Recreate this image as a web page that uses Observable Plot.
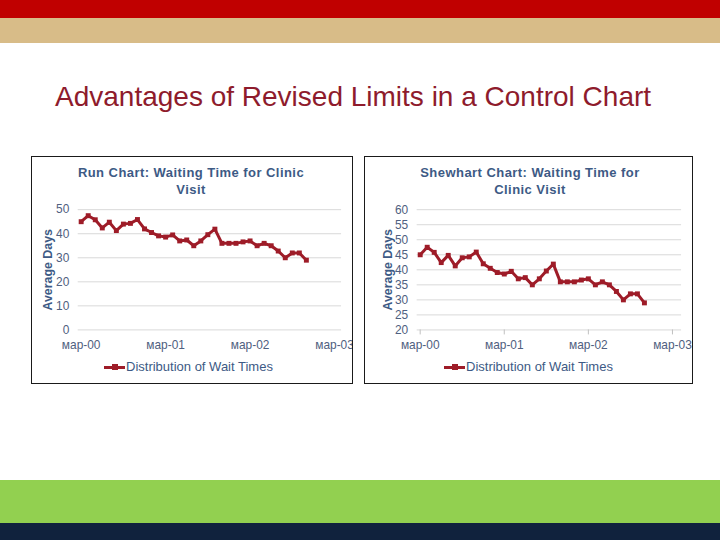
<!DOCTYPE html>
<html><head><meta charset="utf-8">
<script src="https://cdn.jsdelivr.net/npm/d3@7"></script>
<script src="https://cdn.jsdelivr.net/npm/@observablehq/plot@0.6"></script>
<style>
body{margin:0;background:#fff;font-family:"Liberation Sans",Arial,sans-serif;}
#page{position:relative;width:720px;height:540px;overflow:hidden;background:#fff;}
.band{position:absolute;left:0;width:720px;}
.box{position:absolute;border:1.5px solid #1a1a1a;box-sizing:border-box;overflow:hidden;background:#fff;}
.box svg{position:absolute;left:0;top:0;}
.ctitle{position:absolute;text-align:center;font-weight:bold;font-size:13px;letter-spacing:0.45px;line-height:17px;color:#3d5a85;}
.legend{position:absolute;font-size:13px;color:#3d5a85;white-space:nowrap;display:flex;align-items:center;}
.legend .sw{position:relative;width:21px;height:8px;margin-right:1px;}
.legend .sw .ln{position:absolute;left:0;top:3px;width:21px;height:3px;background:#9e1c28;}
.legend .sw .mk{position:absolute;left:8px;top:1.5px;width:6px;height:6px;background:#9e1c28;}
#title{position:absolute;left:55px;top:81px;font-size:28px;color:#8e1b2c;white-space:nowrap;}
</style></head>
<body><div id="page">
<div class="band" style="top:0;height:18px;background:#c00000"></div>
<div class="band" style="top:18px;height:25px;background:#d8bc88"></div>
<div class="band" style="top:480px;height:43px;background:#92d050"></div>
<div class="band" style="top:523px;height:17px;background:#10223d"></div>
<div id="title">Advantages of Revised Limits in a Control Chart</div>
<div class="box" id="boxL" style="left:31px;top:156px;width:322px;height:228px;"></div>
<div class="box" id="boxR" style="left:364px;top:156px;width:329px;height:228px;"></div>
</div>
<script>
// Average waiting days, monthly from Mar-2000
const waitDays = [45, 47.5, 45.8, 42.4, 44.8, 41.3, 44, 44.3, 45.9, 42, 40.5, 39.1, 38.6, 39.5, 37, 37.4, 35, 37, 39.6, 41.9, 36, 36, 36, 36.6, 37, 35, 36, 35, 32.8, 30, 32, 32, 29];
const xTickPos = [0, 12, 24, 36];
const xTickLabels = ["мар-00", "мар-01", "мар-02", "мар-03"];
const leftYTicks = [0, 10, 20, 30, 40, 50];
const rightYTicks = [20, 25, 30, 35, 40, 45, 50, 55, 60];
const seriesName = "Distribution of Wait Times";
const leftTitle = ["Run Chart: Waiting Time for Clinic", "Visit"];
const rightTitle = ["Shewhart Chart: Waiting Time for", "Clinic Visit"];
const yLabel = "Average Days";

const data = waitDays.map((v, i) => ({m: i, v}));
const lineColor = "#9e1c28";
const tickColor = "#4f6080";
const fmt = d => xTickLabels[xTickPos.indexOf(d)];

function chart({width, marginLeft, marginRight, xDomain, yDomain, yTicks, xTickSize, labelDx}) {
  return Plot.plot({
    width, height: 226,
    marginLeft, marginRight, marginTop: 52.5, marginBottom: 52.5,
    style: {fontFamily: '"Liberation Sans", Arial, sans-serif', fontSize: "12px", color: tickColor, background: "transparent"},
    x: {domain: xDomain},
    y: {domain: yDomain},
    marks: [
      Plot.ruleY(yTicks, {stroke: "#d9d9d9", strokeWidth: 1}),
      Plot.axisY({ticks: yTicks, tickSize: 0, tickPadding: 9, label: null, fill: tickColor}),
      Plot.axisX({ticks: xTickPos, tickFormat: fmt, tickSize: xTickSize, stroke: "#bfbfbf", tickPadding: 3 + (8 - xTickSize), label: null, fill: tickColor}),
      Plot.text([yLabel], {frameAnchor: "left", textAnchor: "middle", rotate: -90, dx: labelDx, fontWeight: "bold", fill: "#3d5a85", fontSize: 12.5}),
      Plot.line(data, {x: "m", y: "v", stroke: lineColor, strokeWidth: 3}),
      Plot.dot(data, {x: "m", y: "v", r: 2.8, fill: lineColor, symbol: "square"})
    ]
  });
}

function addTitle(box, lines, left, width) {
  const d = document.createElement("div");
  d.className = "ctitle";
  d.style.left = left + "px"; d.style.top = "7px"; d.style.width = width + "px";
  d.innerHTML = lines.join("<br>");
  box.appendChild(d);
}
function addLegend(box, left) {
  const d = document.createElement("div");
  d.className = "legend";
  d.style.left = left + "px"; d.style.top = "202px";
  d.innerHTML = '<div class="sw"><div class="ln"></div><div class="mk"></div></div><span></span>';
  d.querySelector("span").textContent = seriesName;
  box.appendChild(d);
}

const boxL = document.getElementById("boxL");
boxL.appendChild(chart({width: 322, marginLeft: 46, marginRight: 11, xDomain: [-0.42, 37], yDomain: [0, 50], yTicks: leftYTicks, xTickSize: 0, labelDx: -30}));
addTitle(boxL, leftTitle, 0, 318);
addLegend(boxL, 72);

const boxR = document.getElementById("boxR");
boxR.appendChild(chart({width: 329, marginLeft: 52, marginRight: 11, xDomain: [-0.43, 37.3], yDomain: [20, 60], yTicks: rightYTicks, xTickSize: 5, labelDx: -29}));
addTitle(boxR, rightTitle, 0, 330);
addLegend(boxR, 79);
</script>
</body></html>
